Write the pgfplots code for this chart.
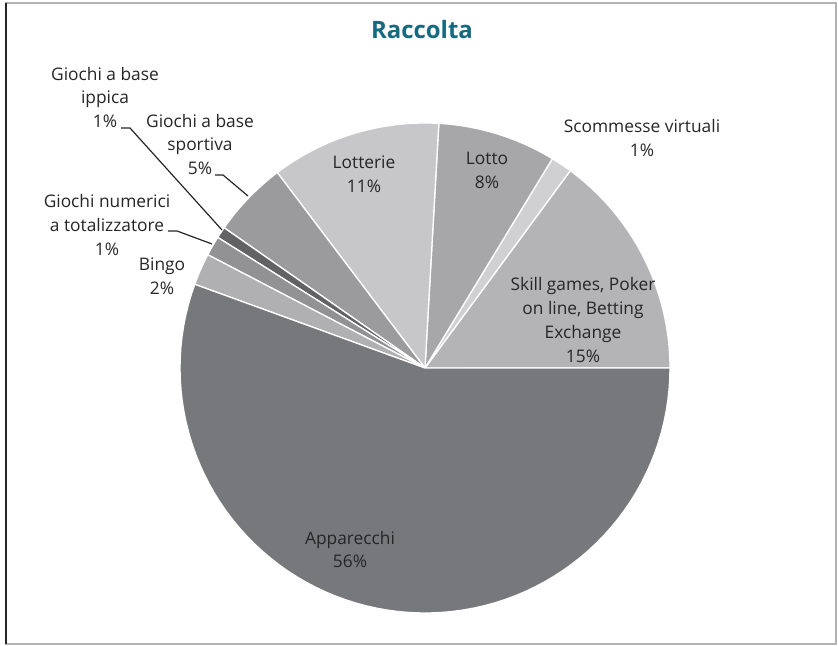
\documentclass[border=0pt]{standalone}
\usepackage{pgfplots}
\pgfplotsset{compat=1.18}
\usepackage{pgfplotstable}
\usepackage{fontspec}
\setmainfont{Open Sans}
\definecolor{pie0}{HTML}{B4B4B6}
\definecolor{pie1}{HTML}{D0D0D2}
\definecolor{pie2}{HTML}{A7A7A9}
\definecolor{pie3}{HTML}{C7C7C9}
\definecolor{pie4}{HTML}{9B9B9D}
\definecolor{pie5}{HTML}{626265}
\definecolor{pie6}{HTML}{929294}
\definecolor{pie7}{HTML}{B0B0B2}
\definecolor{pie8}{HTML}{77787B}
\definecolor{titleteal}{RGB}{23,105,128}
\definecolor{txt}{HTML}{262626}
% share of each game (percent), counter-clockwise from 3 o'clock
\pgfplotstableread[col sep=comma]{
label,value
Skill games Poker on line Betting Exchange,14.9
Scommesse virtuali,1.4
Lotto,7.8
Lotterie,11.2
Giochi a base sportiva,5.0
Giochi a base ippica,0.75
Giochi numerici a totalizzatore,1.3
Bingo,2.1
Apparecchi,55.55
}\pietable
\begin{document}
\begin{tikzpicture}
\begin{axis}[width=838bp,height=646bp,scale only axis,
  xmin=0,xmax=838,ymin=0,ymax=646,hide axis,clip=false]
\path (axis cs:0,0) rectangle (axis cs:838,646);
\draw[gray!60,line width=1.2pt] (axis cs:6,2) rectangle (axis cs:836,643);
\draw[black!85,line width=1.4pt] (axis cs:6,2) -- (axis cs:6,643);
\pgfmathsetmacro\cum{0}
\pgfplotsforeachungrouped \i in {0,...,8}{%
  \pgfplotstablegetelem{\i}{value}\of\pietable
  \let\v\pgfplotsretval
  \pgfmathsetmacro\a{\cum*3.6}%
  \pgfmathsetmacro\b{(\cum+\v)*3.6}%
  \pgfmathsetmacro\cum{\cum+\v}%
  \edef\temp{\noexpand\addplot[fill=pie\i,draw=white,line width=1.3pt,line join=round,
     domain=\a:\b,samples=80,variable=\noexpand\t]
     ({425+245*cos(\noexpand\t)},{278+245*sin(\noexpand\t)}) -- (axis cs:425,278) -- cycle;}%
  \temp
}
\node[font=\fontsize{24}{28}\selectfont\bfseries,text=titleteal] at (axis cs:422,616) {Raccolta};
\tikzset{lab/.style={align=center,inner sep=0pt,text=txt,font=\fontsize{17.4}{24}\selectfont}}
\node[lab] at (axis cs:583,326) {Skill games, Poker\\on line, Betting\\Exchange\\15\%};
\node[lab] at (axis cs:642,508) {Scommesse virtuali\\1\%};
\node[lab] at (axis cs:487,476) {Lotto\\8\%};
\node[lab] at (axis cs:364,472) {Lotterie\\11\%};
\node[lab] at (axis cs:200,501.5) {Giochi a base\\sportiva\\5\%};
\node[lab] at (axis cs:105,548.5) {Giochi a base\\ippica\\1\%};
\node[lab] at (axis cs:107,421) {Giochi numerici\\a totalizzatore\\1\%};
\node[lab] at (axis cs:162,370) {Bingo\\2\%};
\node[lab] at (axis cs:350,96.5) {Apparecchi\\56\%};
\draw[black!85,line width=1.2pt] (axis cs:121,518) -- (axis cs:130,518) -- (axis cs:222,416);
\draw[black!85,line width=1.2pt] (axis cs:215,471) -- (axis cs:223,471) -- (axis cs:248,450);
\draw[black!85,line width=1.2pt] (axis cs:168,415) -- (axis cs:177,415) -- (axis cs:212,402);
\end{axis}
\end{tikzpicture}
\end{document}
